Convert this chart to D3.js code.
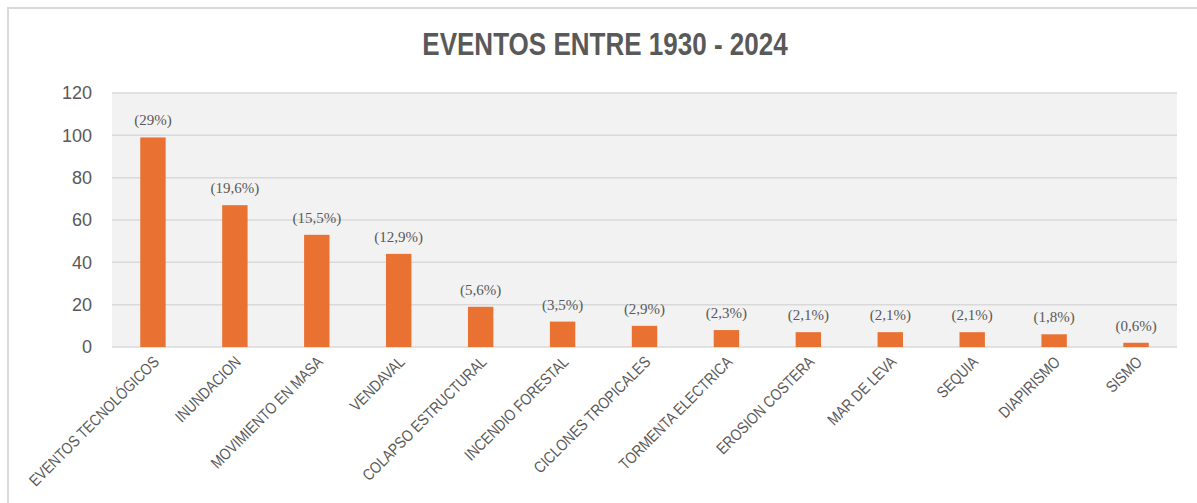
<!DOCTYPE html>
<html lang="es">
<head>
<meta charset="utf-8">
<title>Eventos entre 1930 - 2024</title>
<style>
  body { margin: 0; background: #fff; }
  .title { font-family: "Liberation Sans", Arial, sans-serif; font-weight: bold; fill: #595959; }
  .ytick text { font-family: "Liberation Sans", Arial, sans-serif; font-size: 18px; fill: #595959; }
  .xlabel { font-family: "Liberation Sans", Arial, sans-serif; font-size: 16px; fill: #595959; }
  .pct { font-family: "Liberation Serif", "Times New Roman", serif; font-size: 15px; fill: #595959; }
</style>
<script src="https://d3js.org/d3.v7.min.js"></script>
</head>
<body>
<script>
// data
const categories = ["EVENTOS TECNOLÓGICOS", "INUNDACION", "MOVIMIENTO EN MASA", "VENDAVAL",
  "COLAPSO ESTRUCTURAL", "INCENDIO FORESTAL", "CICLONES TROPICALES", "TORMENTA ELECTRICA",
  "EROSION COSTERA", "MAR DE LEVA", "SEQUIA", "DIAPIRISMO", "SISMO"];
const counts = [99, 67, 53, 44, 19, 12, 10, 8, 7, 7, 7, 6, 2];
const pctLabels = ["(29%)", "(19,6%)", "(15,5%)", "(12,9%)", "(5,6%)", "(3,5%)", "(2,9%)",
  "(2,3%)", "(2,1%)", "(2,1%)", "(2,1%)", "(1,8%)", "(0,6%)"];
const yTicks = [0, 20, 40, 60, 80, 100, 120];

const width = 1197, height = 503;
const margin = {left: 112, right: 20, top: 93, bottom: 156};

const svg = d3.select("body").append("svg")
  .attr("width", width)
  .attr("height", height);

// card border
svg.append("rect")
  .attr("x", 8).attr("y", 8)
  .attr("width", width + 20).attr("height", height + 20)
  .attr("fill", "#fff")
  .attr("stroke", "#d9d9d9")
  .attr("stroke-width", 2);

// no narrow font installed, so squeeze horizontally
svg.append("text")
  .attr("class", "title")
  .attr("text-anchor", "middle")
  .attr("transform", "translate(605,55) scale(0.84,1)")
  .style("font-size", "31px")
  .text("EVENTOS ENTRE 1930 - 2024");

const x = d3.scaleBand()
  .domain(categories)
  .range([margin.left, width - margin.right])
  .paddingInner(0.69)
  .paddingOuter(0.345);

const y = d3.scaleLinear()
  .domain([0, 120])
  .range([height - margin.bottom, margin.top]);

// plot background
svg.append("rect")
  .attr("x", margin.left)
  .attr("y", y(120))
  .attr("width", width - margin.right - margin.left)
  .attr("height", y(0) - y(120))
  .attr("fill", "#f2f2f2");

// gridlines
svg.append("g")
  .selectAll("line")
  .data(yTicks)
  .join("line")
  .attr("x1", margin.left)
  .attr("x2", width - margin.right)
  .attr("y1", d => y(d))
  .attr("y2", d => y(d))
  .attr("stroke", "#d9d9d9")
  .attr("stroke-width", 1.5);

// y axis labels
const yAxis = svg.append("g")
  .attr("class", "ytick")
  .attr("transform", `translate(${margin.left - 20},0)`)
  .call(d3.axisLeft(y).tickValues(yTicks).tickSize(0).tickPadding(0));
yAxis.select(".domain").remove();

// bars
svg.append("g")
  .selectAll("rect")
  .data(counts)
  .join("rect")
  .attr("x", (d, i) => x(categories[i]))
  .attr("y", d => y(d))
  .attr("width", x.bandwidth())
  .attr("height", d => y(0) - y(d))
  .attr("fill", "#e97132");

// percentage labels
svg.append("g")
  .selectAll("text")
  .data(counts)
  .join("text")
  .attr("class", "pct")
  .attr("x", (d, i) => x(categories[i]) + x.bandwidth() / 2)
  .attr("y", d => y(d) - 12)
  .attr("text-anchor", "middle")
  .text((d, i) => pctLabels[i]);

// category labels
svg.append("g")
  .selectAll("text")
  .data(categories)
  .join("text")
  .attr("class", "xlabel")
  .attr("text-anchor", "end")
  .attr("transform", d => `translate(${x(d) + x.bandwidth() / 2 + 7},${y(0) + 16}) rotate(-45) scale(0.84,1)`)
  .text(d => d);
</script>
</body>
</html>
